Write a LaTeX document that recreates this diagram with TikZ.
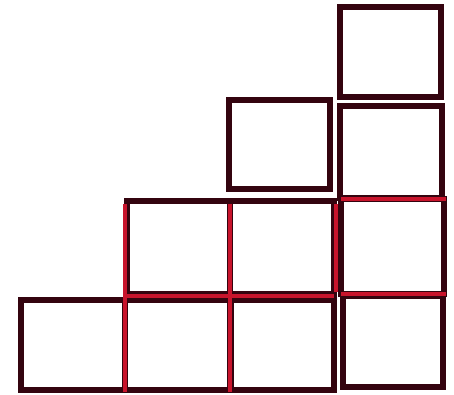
\documentclass[tikz,border=0pt]{standalone}
\usepackage{xcolor}
\usepackage{tikz}
\definecolor{Wine}{HTML}{34040F}
\definecolor{Brick}{HTML}{C8142C}

\begin{document}
\begin{tikzpicture}[
  x=1pt, y=-1pt,
  cell/.style={draw=Wine, line width=5.5pt, fill=white},
  seam/.style={draw=Brick, line width=3.5pt}
]
\useasboundingbox (0,0) rectangle (454,395);
% staircase cells: left, top, right, bottom
\foreach \l/\t/\r/\b in {21/300/125/390, 125/300/230/390, 231/300/334/390, 343/296/443/387,
  127/201/230/294, 230/201/334/294, 341/199/444/294,
  229/100/330/189, 340/106/442/198,
  340/7/441/97}
  \draw[cell] (\l,\t) rectangle (\r,\b);
% shared edges
\draw[seam] (125,204) -- (125,392);
\draw[seam] (230,204) -- (230,392);
\draw[seam] (336,204) -- (336,292);
\draw[seam] (127,296) -- (334,296);
\draw[seam] (341,294) -- (446,294);
\draw[seam] (341,199) -- (446,199);
\end{tikzpicture}
\end{document}
